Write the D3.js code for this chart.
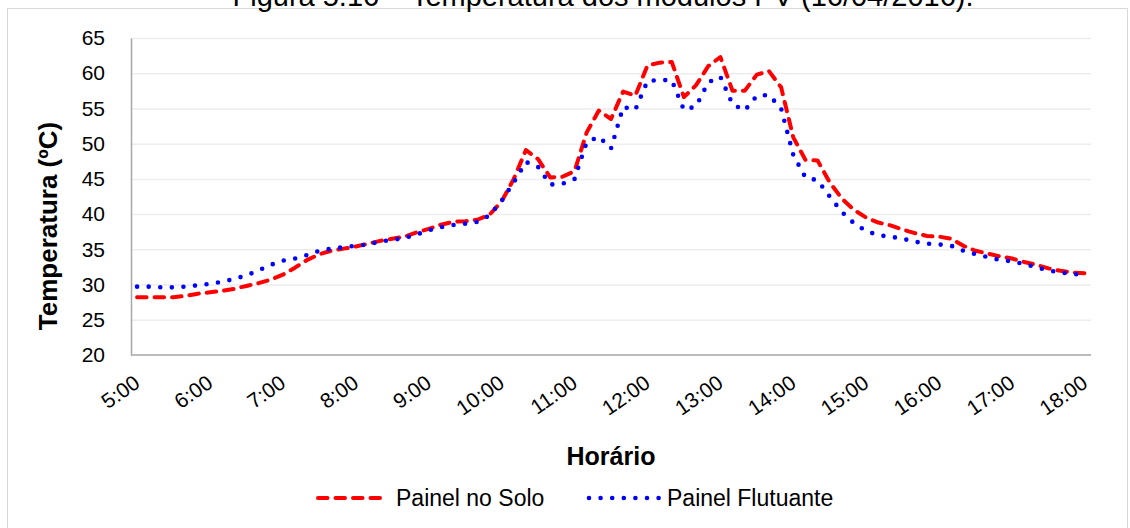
<!DOCTYPE html>
<html>
<head>
<meta charset="utf-8">
<script src="https://cdn.jsdelivr.net/npm/d3@7"></script>
<style>
  body { margin: 0; background: #fff; }
  text { font-family: "Liberation Sans", Arial, sans-serif; fill: #000; }
</style>
</head>
<body>
<svg id="chart"></svg>
<script>
const width = 1130;
const height = 528;

// categories: readings every 10 minutes, 5:00 to 18:00
const times = [];
for (let h = 5; h <= 18; h++) {
  for (let m = 0; m < 60; m += 10) {
    if (h === 18 && m > 0) break;
    times.push(`${h}:${String(m).padStart(2, "0")}`);
  }
}

const tickLabels = ["5:00", "6:00", "7:00", "8:00", "9:00", "10:00", "11:00",
  "12:00", "13:00", "14:00", "15:00", "16:00", "17:00", "18:00"];

const yTicks = [20, 25, 30, 35, 40, 45, 50, 55, 60, 65];

const painelSolo = [
  28.2, 28.2, 28.2, 28.2, 28.4, 28.7, 28.9, 29.1, 29.4, 29.8,
  30.2, 30.7, 31.4, 32.4, 33.5, 34.3, 34.8, 35.1, 35.4, 35.8,
  36.2, 36.5, 36.8, 37.4, 37.9, 38.5, 38.9, 39.0, 39.2, 39.9,
  41.8, 45.0, 49.1, 47.8, 45.2, 45.3, 46.1, 51.6, 54.7, 53.5,
  57.4, 56.8, 61.1, 61.5, 61.6, 56.6, 58.3, 61.0, 62.3, 57.5,
  57.5, 59.8, 60.3, 58.0, 50.9, 47.7, 47.6, 44.5, 42.2, 40.6,
  39.5, 38.8, 38.4, 37.8, 37.3, 36.9, 36.8, 36.5, 35.5, 34.8,
  34.4, 34.0, 33.7, 33.2, 32.8, 32.3, 31.95, 31.7, 31.6
];

const painelFlutuante = [
  29.7, 29.7, 29.6, 29.6, 29.7, 29.9, 30.1, 30.4, 30.8, 31.3,
  32.0, 32.8, 33.4, 33.7, 34.2, 34.8, 35.1, 35.3, 35.5, 35.7,
  36.1, 36.35, 36.6, 37.1, 37.7, 38.15, 38.45, 38.65, 38.9, 39.8,
  41.9, 44.5, 47.4, 46.7, 44.2, 44.3, 45.0, 50.2, 51.0, 49.3,
  55.2, 54.8, 58.9, 59.05, 59.0, 54.8, 55.3, 58.7, 59.5, 55.6,
  54.7, 56.8, 56.9, 55.0, 48.4, 45.2, 44.8, 42.5, 40.3, 38.7,
  37.6, 37.0, 36.8, 36.5, 36.1, 35.8, 35.7, 35.5, 34.8, 34.3,
  33.9, 33.5, 33.3, 32.9, 32.45, 32.0, 31.7, 31.5, 31.4
];

const series = [
  { name: "Painel no Solo", values: painelSolo, color: "#ff0000", dash: "9.5,8", width: 4 },
  { name: "Painel Flutuante", values: painelFlutuante, color: "#0000ff", dash: "0,11.6", width: 4.6 }
];

const plot = { left: 131, right: 1091, top: 38, bottom: 355 };

const svg = d3.select("#chart")
  .attr("width", width)
  .attr("height", height);

// chart frame
svg.append("rect")
  .attr("x", 7.5).attr("y", 8.5)
  .attr("width", 1120).attr("height", 540)
  .attr("fill", "none")
  .attr("stroke", "#d9d9d9");

// title: only its lower edge is inside the picture, as in the source
svg.append("text")
  .attr("x", 603).attr("y", 6)
  .attr("text-anchor", "middle")
  .style("font-size", "29px")
  .text("Figura 5.16 – Temperatura dos módulos PV (16/04/2016).");

const x = d3.scalePoint()
  .domain(times)
  .range([plot.left, plot.right])
  .padding(0.5);

const y = d3.scaleLinear()
  .domain([20, 65])
  .range([plot.bottom, plot.top]);

// gridlines
svg.append("g")
  .selectAll("line")
  .data(yTicks.filter(d => d > 20))
  .join("line")
  .attr("x1", plot.left).attr("x2", plot.right)
  .attr("y1", d => y(d) + 0.5).attr("y2", d => y(d) + 0.5)
  .attr("stroke", "#ededed")
  .attr("stroke-width", 1.5);

// y axis
const yAxis = svg.append("g")
  .attr("transform", `translate(${plot.left},0)`)
  .call(d3.axisLeft(y).tickValues(yTicks).tickSize(0).tickPadding(26));
yAxis.select(".domain").attr("stroke", "#a6a6a6").attr("stroke-width", 1.5);
yAxis.selectAll("text").style("font-size", "21px");

// x axis
svg.append("line")
  .attr("x1", plot.left).attr("x2", plot.right)
  .attr("y1", plot.bottom).attr("y2", plot.bottom)
  .attr("stroke", "#a6a6a6")
  .attr("stroke-width", 1.5);

svg.append("g")
  .selectAll("text")
  .data(tickLabels)
  .join("text")
  .attr("transform", d => `translate(${x(d)},${plot.bottom + 25}) rotate(-35)`)
  .attr("text-anchor", "end")
  .attr("dy", "0.35em")
  .style("font-size", "21px")
  .text(d => d);

// axis titles
svg.append("text")
  .attr("transform", "translate(57,226) rotate(-90)")
  .attr("text-anchor", "middle")
  .style("font-size", "26px")
  .style("font-weight", "bold")
  .text("Temperatura (ºC)");

svg.append("text")
  .attr("x", (plot.left + plot.right) / 2)
  .attr("y", 465)
  .attr("text-anchor", "middle")
  .style("font-size", "25px")
  .style("font-weight", "bold")
  .text("Horário");

// lines
const line = d3.line()
  .x((d, i) => x(times[i]))
  .y(d => y(d));

svg.append("g")
  .selectAll("path")
  .data(series)
  .join("path")
  .attr("d", d => line(d.values))
  .attr("fill", "none")
  .attr("stroke", d => d.color)
  .attr("stroke-width", d => d.width)
  .attr("stroke-dasharray", d => d.dash)
  .attr("stroke-linecap", "round")
  .attr("stroke-linejoin", "round");

// legend
const legendX = [318, 589];
const legend = svg.append("g")
  .selectAll("g")
  .data(series)
  .join("g")
  .attr("transform", (d, i) => `translate(${legendX[i]},498)`);

legend.append("line")
  .attr("x1", 0).attr("x2", 70)
  .attr("stroke", d => d.color)
  .attr("stroke-width", d => d.width)
  .attr("stroke-dasharray", d => d.dash)
  .attr("stroke-linecap", "round");

legend.append("text")
  .attr("x", 78)
  .attr("dy", "0.35em")
  .style("font-size", "23px")
  .text(d => d.name);
</script>
</body>
</html>
